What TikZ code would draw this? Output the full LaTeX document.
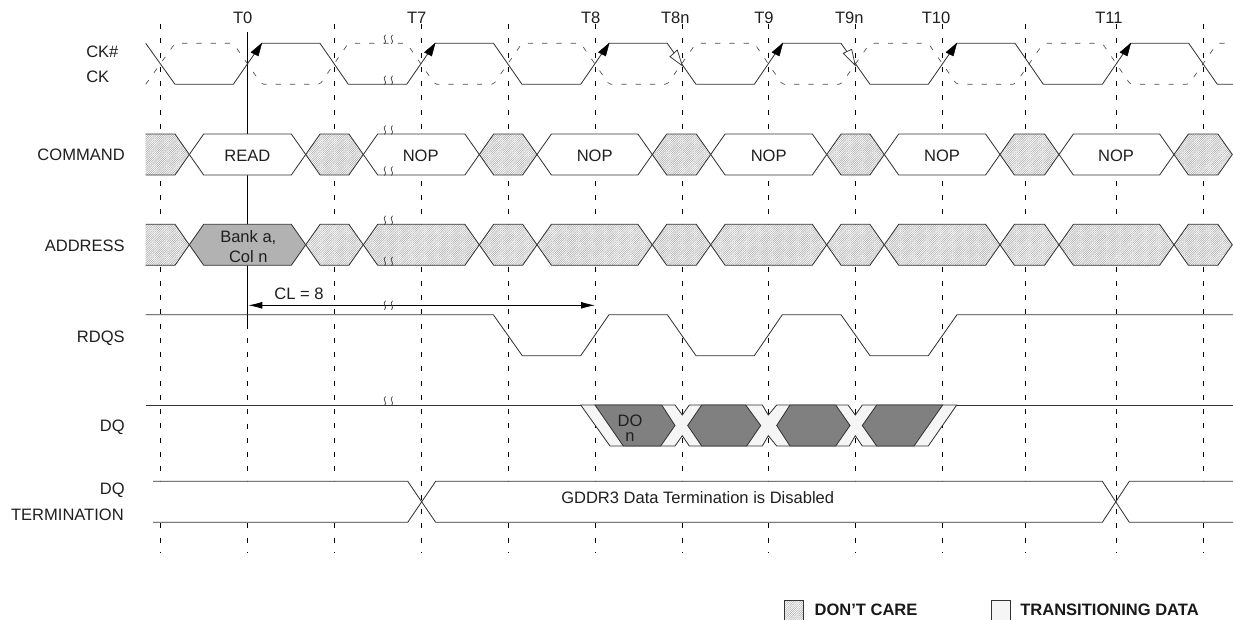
\documentclass[tikz,border=0pt]{standalone}
\usepackage{fontspec}
\setmainfont{Liberation Sans}
\usetikzlibrary{patterns.meta,arrows.meta}
\definecolor{wave}{gray}{0.2}
\definecolor{trans}{gray}{0.96}
\tikzset{
  wavepen/.style={draw=wave,line width=0.62pt,line join=miter},
  ghost/.style={draw=black!70,line width=0.5pt,dash pattern=on 3.9pt off 6.8pt,rounded corners=1.5pt},
  tick/.style={draw=black,line width=0.68pt,dash pattern=on 3.75pt off 6.95pt},
  dontcare/.style={wavepen,pattern={Lines[angle=45,distance=1.15pt,line width=0.38pt]},pattern color=black!34},
  blank/.style={wavepen,fill=white},
  bankfill/.style={wavepen,fill=black!30},
  txt/.style={inner sep=0pt,font=\fontsize{12.4}{14.5}\selectfont,text=black!88},
  boldtxt/.style={inner sep=0pt,anchor=west,font=\fontsize{12.4}{14.5}\selectfont\bfseries,text=black!90},
  squig/.style={draw=black!75,line width=0.55pt},
  rise/.style={fill=black,draw=black,line width=0.3pt},
  openfall/.style={fill=white,draw=wave,line width=0.55pt},
}
% hexagon between two crossings: style, left, right, top, bottom
\newcommand\hexseg[5]{\fill[white] (#2,{(#4+#5)/2}) -- (#2+14.4,#4) -- (#3-14.4,#4) -- (#3,{(#4+#5)/2}) -- (#3-14.4,#5) -- (#2+14.4,#5) -- cycle;
  \path[#1] (#2,{(#4+#5)/2}) -- (#2+14.4,#4) -- (#3-14.4,#4) -- (#3,{(#4+#5)/2}) -- (#3-14.4,#5) -- (#2+14.4,#5) -- cycle;}
% open-ended first segment: top, bottom
\newcommand\firstseg[2]{\fill[white] (145.7,#1) -- (175,#1) -- (189.3,{(#1+#2)/2}) -- (175,#2) -- (145.7,#2) -- cycle;
  \path[dontcare,draw=none] (145.7,#1) -- (175,#1) -- (189.3,{(#1+#2)/2}) -- (175,#2) -- (145.7,#2) -- cycle;
  \draw[wavepen] (145.7,#1) -- (175,#1) -- (189.3,{(#1+#2)/2}) -- (175,#2) -- (145.7,#2);}
% break mark with its centre height
\newcommand\brk[1]{\draw[squig] (385.5,#1-4.5) .. controls (381.5,#1-1.5) and (388,#1+1.5) .. (384.5,#1+4.5);
  \draw[squig] (392.5,#1-4.5) .. controls (388.5,#1-1.5) and (395,#1+1.5) .. (391.5,#1+4.5);}
\begin{document}
\begin{tikzpicture}[x=0.75pt,y=-0.75pt]
\useasboundingbox (0,0) rectangle (1233,619);
\clip (0,0) rectangle (1233,619);

% time grid
\foreach \gx in {160.3,334.3,421.3,508.3,595.3,682.3,768.3,855.3,942.3,1025.3,1116.3,1203.3}
  \draw[tick] (\gx,24) -- (\gx,553);
\draw[tick] (247.3,338) -- (247.3,553);
\draw[draw=black,line width=0.7pt] (247.3,32) -- (247.3,329);

% CK# / CK
\draw[ghost] (145.7,84.3) -- (175,43.3) -- (233.3,43.3) -- (261.7,84.3) -- (320,84.3) -- (348.3,43.3) -- (406.7,43.3) -- (435,84.3) -- (493.5,84.3) -- (522,43.3) -- (580.7,43.3) -- (609,84.3) -- (667.3,84.3) -- (696,43.3) -- (754.3,43.3) -- (782.3,84.3) -- (841,84.3) -- (870,43.3) -- (928.3,43.3) -- (956.7,84.3) -- (1015,84.3) -- (1043.3,43.3) -- (1102.3,43.3) -- (1130.3,84.3) -- (1188.7,84.3) -- (1217.3,43.3) -- (1235,43.3);
\draw[wavepen] (145.7,43.3) -- (175,84.3) -- (233.3,84.3) -- (261.7,43.3) -- (320,43.3) -- (348.3,84.3) -- (406.7,84.3) -- (435,43.3) -- (493.5,43.3) -- (522,84.3) -- (580.7,84.3) -- (609,43.3) -- (667.3,43.3) -- (696,84.3) -- (754.3,84.3) -- (782.3,43.3) -- (841,43.3) -- (870,84.3) -- (928.3,84.3) -- (956.7,43.3) -- (1015,43.3) -- (1043.3,84.3) -- (1102.3,84.3) -- (1130.3,43.3) -- (1188.7,43.3) -- (1217.3,84.3) -- (1235,84.3);
\foreach \rx in {233.3,406.7,580.7,754.3,928.3,1102.3}
  \path[rise] (\rx+28.4,43.3) -- (\rx+17.7,52.3) -- (\rx+25,56) -- cycle;
\path[openfall] (682.3,65.7) -- (670,56.7) -- (677.3,50) -- cycle;
\path[openfall] (855.3,65.5) -- (843.3,53.3) -- (851.7,49.3) -- cycle;

% COMMAND
\firstseg{134}{175}
\hexseg{blank}{189.3}{305.7}{134}{175}
\hexseg{dontcare}{305.7}{363.3}{134}{175}
\hexseg{blank}{363.3}{479.3}{134}{175}
\hexseg{dontcare}{479.3}{537}{134}{175}
\hexseg{blank}{537}{652.3}{134}{175}
\hexseg{dontcare}{652.3}{710.7}{134}{175}
\hexseg{blank}{710.7}{826.7}{134}{175}
\hexseg{dontcare}{826.7}{884.3}{134}{175}
\hexseg{blank}{884.3}{1000}{134}{175}
\hexseg{dontcare}{1000}{1059}{134}{175}
\hexseg{blank}{1059}{1174}{134}{175}
\hexseg{dontcare}{1174}{1232.3}{134}{175}

% ADDRESS
\firstseg{224.3}{265.3}
\hexseg{bankfill}{189.3}{305.7}{224.3}{265.3}
\hexseg{dontcare}{305.7}{363.3}{224.3}{265.3}
\hexseg{dontcare}{363.3}{479.3}{224.3}{265.3}
\hexseg{dontcare}{479.3}{537}{224.3}{265.3}
\hexseg{dontcare}{537}{652.3}{224.3}{265.3}
\hexseg{dontcare}{652.3}{710.7}{224.3}{265.3}
\hexseg{dontcare}{710.7}{826.7}{224.3}{265.3}
\hexseg{dontcare}{826.7}{884.3}{224.3}{265.3}
\hexseg{dontcare}{884.3}{1000}{224.3}{265.3}
\hexseg{dontcare}{1000}{1059}{224.3}{265.3}
\hexseg{dontcare}{1059}{1174}{224.3}{265.3}
\hexseg{dontcare}{1174}{1232.3}{224.3}{265.3}

% RDQS
\draw[wavepen] (145.7,314.7) -- (493.3,314.7) -- (522.3,355.7) -- (580.7,355.7) -- (609,314.7) -- (667.3,314.7) -- (696,355.7) -- (754.3,355.7) -- (782.3,314.7) -- (841,314.7) -- (870,355.7) -- (928.3,355.7) -- (957,314.7) -- (1235,314.7);

% DQ
\draw[wavepen] (145.7,405) -- (580.7,405);
\draw[wavepen] (956.7,405) -- (1235,405);
\path[wavepen,fill=trans] (580.7,405) -- (610,446) -- (675,446) -- (682.3,435.7) -- (689.3,446) -- (762.3,446) -- (768.3,435.7) -- (776.7,446) -- (849.3,446) -- (855.3,435.7) -- (862.3,446) -- (928.3,446) -- (956.7,405) -- (862.3,405) -- (855.3,415) -- (848,405) -- (776.7,405) -- (768.3,415) -- (762.3,405) -- (689.3,405) -- (682.3,415) -- (675,405) -- cycle;
\tikzset{dqhex/.style={wavepen,fill=black!50}}
\path[dqhex] (595,405) -- (661.7,405) -- (675,425.5) -- (660.7,446) -- (623.3,446) -- cycle;
\path[dqhex] (701.7,405) -- (745.7,405) -- (760.7,425.5) -- (746.7,446) -- (701.7,446) -- (687.7,425.5) -- cycle;
\path[dqhex] (790,405) -- (835.7,405) -- (850,425.5) -- (835.7,446) -- (790,446) -- (776.7,425.5) -- cycle;
\path[dqhex] (876.7,405) -- (942.7,405) -- (914,446) -- (876.7,446) -- (862.3,425.5) -- cycle;

% DQ TERMINATION
\fill[white] (153,481.3) -- (407.7,481.3) -- (421.5,501.8) -- (407.7,522.3) -- (153,522.3) -- cycle;
\fill[white] (435.7,481.3) -- (1102.3,481.3) -- (1115.7,501.8) -- (1102.3,522.3) -- (435.7,522.3) -- (421.5,501.8) -- cycle;
\fill[white] (1129.3,481.3) -- (1235,481.3) -- (1235,522.3) -- (1129.3,522.3) -- (1115.7,501.8) -- cycle;
\draw[wavepen] (153,481.3) -- (407.7,481.3) -- (435.7,522.3) -- (1102.3,522.3) -- (1129.3,481.3) -- (1235,481.3);
\draw[wavepen] (153,522.3) -- (407.7,522.3) -- (435.7,481.3) -- (1102.3,481.3) -- (1129.3,522.3) -- (1235,522.3);

% CL arrow
\coordinate (clL) at (248.3,305.3);
\coordinate (clR) at (595,305.3);
\draw[draw=black,line width=0.68pt,{Latex[length=10.5pt,width=5.2pt]}-{Latex[length=10.5pt,width=5.2pt]}] (clL) -- (clR);

% break marks
\foreach \by in {39.3,80.3,130,171,220.3,261.3,305.3,401} {\brk{\by}}

% clock labels
\node[txt] (t0) at (242.7,18) {T0};
\node[txt] (t7) at (416.7,18) {T7};
\node[txt] (t8) at (590.7,18) {T8};
\node[txt] (t8n) at (675.3,18) {T8n};
\node[txt] (t9) at (764,18) {T9};
\node[txt] (t9n) at (849.3,18) {T9n};
\node[txt] (t10) at (936,18) {T10};
\node[txt] (t11) at (1109,18) {T11};

% signal labels
\node[txt,anchor=west] (lckb) at (86,52) {CK\#};
\node[txt,anchor=west] (lck) at (86,77) {CK};
\node[txt,anchor=east] (lcmd) at (125,155) {COMMAND};
\node[txt,anchor=east] (ladr) at (125,246) {ADDRESS};
\node[txt,anchor=east] (lrdqs) at (125,338) {RDQS};
\node[txt,anchor=east] (ldq) at (125,427) {DQ};
\node[txt,anchor=east] (ldqt) at (125,490) {DQ};
\node[txt,anchor=east] (lterm) at (124,515) {TERMINATION};

% waveform labels
\node[txt] (read) at (247.3,156) {READ};
\node[txt] (nop1) at (420.7,156) {NOP};
\node[txt] (nop2) at (594.7,156) {NOP};
\node[txt] (nop3) at (768.7,156) {NOP};
\node[txt] (nop4) at (942,156) {NOP};
\node[txt] (nop5) at (1116,156) {NOP};
\node[txt,align=center] (bank) at (248.3,247) {Bank a,\\[0.6pt]Col n};
\node[txt] (cl) at (299,294) {CL = 8};
\node[txt,align=center] (don) at (630,428.5) {DO\\[-3pt]n};
\node[txt] (gddr) at (697.7,498) {GDDR3 Data Termination is Disabled};

% legend
\path[dontcare] (784.3,600.5) rectangle (803.7,625);
\path[wavepen,fill=trans] (991.3,600.5) rectangle (1010.7,625);
\node[boldtxt] (ldc) at (814.3,609.3) {DON’T CARE};
\node[boldtxt] (ltd) at (1020,609.3) {TRANSITIONING DATA};
\end{tikzpicture}
\end{document}
